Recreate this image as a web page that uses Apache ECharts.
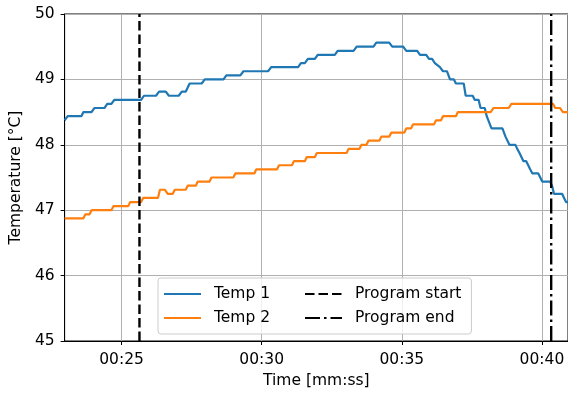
<!DOCTYPE html>
<html>
<head>
<meta charset="utf-8">
<script src="https://cdn.jsdelivr.net/npm/echarts@6/dist/echarts.min.js"></script>
<style>
  html, body { margin: 0; padding: 0; background: #fff; }
  #chart { width: 568px; height: 394px; }
</style>
</head>
<body>
<div id="chart"></div>
<script>
// Sensor readings, time in seconds, temperatures in °C
const temp1Time = [22.97, 23.08, 23.57, 23.64, 23.93, 24.03, 24.39, 24.49, 24.64, 24.74,
  25.70, 25.80, 26.23, 26.34, 26.58, 26.69, 27.04, 27.15, 27.29, 27.43,
  27.86, 27.97, 28.64, 28.74, 29.24, 29.35, 30.23, 30.34, 31.30, 31.40,
  31.54, 31.65, 31.90, 32.00, 32.61, 32.71, 33.28, 33.39, 33.99, 34.09,
  34.55, 34.66, 35.05, 35.16, 35.55, 35.65, 35.87, 35.97, 36.08, 36.18,
  36.25, 36.36, 36.40, 36.47, 36.61, 36.72, 36.86, 36.93, 37.21, 37.28,
  37.53, 37.60, 37.74, 37.81, 37.96, 38.03, 38.10, 38.20, 38.59, 38.70,
  38.77, 38.84, 39.05, 39.12, 39.20, 39.27, 39.34, 39.44, 39.51, 39.58,
  39.66, 39.87, 39.94, 40.01, 40.29, 40.36, 40.43, 40.72, 40.79, 40.86, 40.93];
const temp1Values = [48.375, 48.4375, 48.4375, 48.5, 48.5, 48.5625, 48.5625, 48.625, 48.625, 48.6875,
  48.6875, 48.75, 48.75, 48.8125, 48.8125, 48.75, 48.75, 48.8125, 48.8125, 48.9375,
  48.9375, 49.0, 49.0, 49.0625, 49.0625, 49.125, 49.125, 49.1875, 49.1875, 49.25,
  49.25, 49.3125, 49.3125, 49.375, 49.375, 49.4375, 49.4375, 49.5, 49.5, 49.5625,
  49.5625, 49.5, 49.5, 49.4375, 49.4375, 49.375, 49.375, 49.3125, 49.3125, 49.25,
  49.25, 49.1875, 49.1875, 49.125, 49.125, 49.0, 49.0, 48.9375, 48.9375, 48.75,
  48.75, 48.6875, 48.6875, 48.5625, 48.5625, 48.4375, 48.4375, 48.25, 48.25, 48.125,
  48.125, 48.0, 48.0, 47.9375, 47.875, 47.875, 47.75, 47.75, 47.6875, 47.625,
  47.5625, 47.5625, 47.5, 47.4375, 47.4375, 47.375, 47.25, 47.25, 47.1875, 47.125, 47.125];

const temp2Time = [22.97, 23.64, 23.71, 23.86, 23.93, 24.64, 24.71, 25.24, 25.31, 25.70,
  25.77, 26.30, 26.37, 26.55, 26.65, 26.83, 26.90, 27.29, 27.36, 27.65,
  27.72, 28.14, 28.21, 28.99, 29.06, 29.74, 29.81, 30.55, 30.62, 31.08,
  31.15, 31.54, 31.61, 31.90, 31.97, 33.03, 33.10, 33.49, 33.56, 33.74,
  33.81, 34.20, 34.27, 34.55, 34.63, 35.09, 35.16, 35.33, 35.40, 36.15,
  36.22, 36.40, 36.47, 36.93, 37.00, 38.17, 38.27, 38.81, 38.91, 40.40,
  40.47, 40.65, 40.75, 40.93];
const temp2Values = [46.875, 46.875, 46.9375, 46.9375, 47.0, 47.0, 47.0625, 47.0625, 47.125, 47.125,
  47.1875, 47.1875, 47.3125, 47.3125, 47.25, 47.25, 47.3125, 47.3125, 47.375, 47.375,
  47.4375, 47.4375, 47.5, 47.5, 47.5625, 47.5625, 47.625, 47.625, 47.6875, 47.6875,
  47.75, 47.75, 47.8125, 47.8125, 47.875, 47.875, 47.9375, 47.9375, 48.0, 48.0,
  48.0625, 48.0625, 48.125, 48.125, 48.1875, 48.1875, 48.25, 48.25, 48.3125, 48.3125,
  48.375, 48.375, 48.4375, 48.4375, 48.5, 48.5, 48.5625, 48.5625, 48.625, 48.625,
  48.5625, 48.5625, 48.5, 48.5];

const programStart = 25.64;
const programEnd = 40.33;

const xRange = [22.97, 40.93];
const xTicks = [25, 30, 35, 40];
const yRange = [45, 50];
const yStep = 1;

const font = 'DejaVu Sans';

function pairs(xs, ys) {
  return xs.map((x, i) => [x, ys[i]]);
}
function fmtTime(v) {
  const m = Math.floor(v / 60);
  const s = Math.round(v - m * 60);
  return String(m).padStart(2, '0') + ':' + String(s).padStart(2, '0');
}

const chart = echarts.init(document.getElementById('chart'), null, { renderer: 'canvas' });

chart.setOption({
  animation: false,
  backgroundColor: '#ffffff',
  grid: {
    left: 61, top: 14, right: 0, bottom: 53,
    show: true, borderColor: '#000', borderWidth: 1, backgroundColor: 'transparent'
  },
  xAxis: {
    type: 'value',
    min: xRange[0], max: xRange[1],
    name: 'Time [mm:ss]',
    nameLocation: 'middle',
    nameGap: 31,
    nameTextStyle: { fontFamily: font, fontSize: 15.5, color: '#000' },
    axisLine: { show: true, onZero: false, lineStyle: { color: '#000', width: 1 } },
    axisTick: { show: true, length: 4, inside: false, customValues: xTicks, lineStyle: { color: '#000' } },
    axisLabel: { customValues: xTicks, margin: 11, fontFamily: font, fontSize: 15.5, color: '#000',
      formatter: fmtTime },
    splitLine: { show: true, lineStyle: { color: '#b0b0b0', width: 1 } }
  },
  yAxis: {
    type: 'value',
    min: yRange[0], max: yRange[1], interval: yStep,
    name: 'Temperature [°C]',
    nameLocation: 'middle',
    nameGap: 40,
    nameTextStyle: { fontFamily: font, fontSize: 15.5, color: '#000' },
    axisLine: { show: true, onZero: false, lineStyle: { color: '#000', width: 1 } },
    axisTick: { show: true, length: 4, lineStyle: { color: '#000' } },
    axisLabel: { margin: 10, fontFamily: font, fontSize: 15.5, color: '#000' },
    splitLine: { show: true, lineStyle: { color: '#b0b0b0', width: 1 } }
  },
  legend: {
    left: 158, top: 278,
    orient: 'horizontal',
    width: 310,
    itemGap: 0,
    itemWidth: 37, itemHeight: 14,
    // line-only handles: hide the marker drawn in the middle of each line
    itemStyle: { opacity: 0 },
    padding: [4, 10, 4, 5],
    backgroundColor: 'rgba(255,255,255,0.8)',
    borderColor: '#cccccc', borderWidth: 1, borderRadius: 3,
    textStyle: { fontFamily: font, fontSize: 15.5, color: '#000', lineHeight: 24, padding: [0, 0, 0, 8] },
    data: [
      { name: 'Temp 1', textStyle: { width: 90 } },
      { name: 'Program start' },
      { name: 'Temp 2', textStyle: { width: 90 } },
      { name: 'Program end' }
    ]
  },
  series: [
    {
      name: 'Temp 1', type: 'line', symbol: 'none', z: 3,
      data: pairs(temp1Time, temp1Values),
      lineStyle: { color: '#1f77b4', width: 2.2 }, itemStyle: { color: '#1f77b4' }
    },
    {
      name: 'Temp 2', type: 'line', symbol: 'none', z: 3,
      data: pairs(temp2Time, temp2Values),
      lineStyle: { color: '#ff7f0e', width: 2.2 }, itemStyle: { color: '#ff7f0e' }
    },
    {
      name: 'Program start', type: 'line', symbol: 'none', z: 4,
      data: [[programStart, yRange[0]], [programStart, yRange[1]]],
      lineStyle: { color: '#000', width: 2.4, type: [9.5, 4] }, itemStyle: { color: '#000' }
    },
    {
      name: 'Program end', type: 'line', symbol: 'none', z: 4,
      data: [[programEnd, yRange[0]], [programEnd, yRange[1]]],
      lineStyle: { color: '#000', width: 2.4, type: [15, 4, 2.5, 4] }, itemStyle: { color: '#000' }
    }
  ]
});
</script>
</body>
</html>
